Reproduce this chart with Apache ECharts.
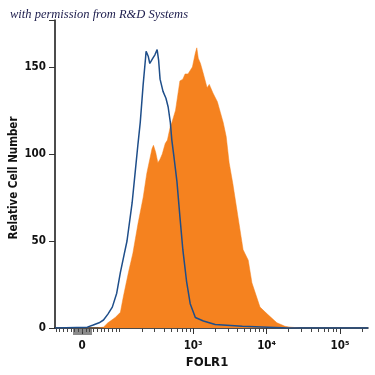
<!DOCTYPE html>
<html>
<head>
<meta charset="utf-8">
<script src="https://cdn.jsdelivr.net/npm/echarts@6/dist/echarts.min.js"></script>
<style>
html,body{margin:0;padding:0;background:#fff;}
#chart{width:375px;height:375px;}
</style>
</head>
<body>
<div id="chart"></div>
<script>
// Display-scale positions (biexponential axis: 10^3 -> 3, 10^4 -> 4, 10^5 -> 5, 0 -> 1.49)
var isotypePos   = [1.12,1.56,1.64,1.72,1.78,1.84,1.90,1.96,2.01,2.06,2.10,2.17,2.21,2.25,2.28,2.32,2.35,2.36,2.39,2.41,2.45,2.48,2.51,2.53,2.55,2.59,2.63,2.66,2.69,2.71,2.74,2.76,2.78,2.82,2.86,2.91,2.96,3.03,3.14,3.30,3.67,4.02,4.30,5.38];
var isotypeCount = [0,0.5,1.7,3,4.6,8,12,20,32,42,50,72,89,106,118,140,154,159,156,152,155,157,160,154,143,136,132,127,118,108,98,91,84,64,45,27,14,6,4,2,1,0.5,0,0];

var folr1Pos   = [1.12,1.70,1.78,1.84,1.94,2.01,2.05,2.12,2.18,2.25,2.32,2.37,2.41,2.44,2.46,2.49,2.52,2.55,2.58,2.62,2.65,2.69,2.71,2.76,2.78,2.82,2.86,2.89,2.93,2.96,2.99,3.03,3.05,3.07,3.10,3.14,3.19,3.22,3.27,3.33,3.37,3.41,3.45,3.49,3.54,3.61,3.68,3.75,3.80,3.91,4.01,4.14,4.25,4.32,4.46,5.38];
var folr1Count = [0,0,0.5,3,6,9,18,32,43,60,75,89,97,103,105,101,95,97,100,106,108,116,118,125,125,142,143,146,146,148,150,158,161,155,152,146,138,140,135,130,124,118,110,95,83,64,45,39,26,12,8,3,1,0.5,0,0];

var majorTickPos   = [1.49, 3, 4, 5];
var majorTickLabel = ['0', '10\u00B3', '10\u2074', '10\u2075'];
var yTicks = [0, 50, 100, 150];

var xMin = 1.12, xMax = 5.38;
// minor ticks: linear region around zero, then log decades
var minorTicks = [];
for (var k = -7; k <= 10; k++) minorTicks.push(1.49 + k * 0.051);
[2, 3, 4].forEach(function (d) {
  for (var m = 2; m <= 9; m++) minorTicks.push(d + Math.log10(m));
});
minorTicks.push(5 + Math.log10(2));
minorTicks = minorTicks.filter(function (v) { return v >= xMin && v <= xMax; });

function pairs(xs, ys) { return xs.map(function (x, i) { return [x, ys[i]]; }); }

var FONT = '"DejaVu Sans Condensed", "DejaVu Sans", sans-serif';
var chart = echarts.init(document.getElementById('chart'), null, {renderer: 'canvas'});
chart.setOption({
  animation: false,
  backgroundColor: '#ffffff',
  grid: {left: 55, right: 7, top: 20, bottom: 47},
  xAxis: [{
    type: 'value', min: xMin, max: xMax,
    splitLine: {show: false},
    axisLine: {show: true, onZero: false, lineStyle: {color: '#111', width: 1.5}},
    axisTick: {show: true, customValues: majorTickPos, length: 6, lineStyle: {color: '#333', width: 1}},
    axisLabel: {show: true, customValues: majorTickPos, margin: 12,
      formatter: function (v) {
        var i = -1;
        for (var j = 0; j < majorTickPos.length; j++) if (Math.abs(majorTickPos[j] - v) < 1e-6) i = j;
        return i >= 0 ? majorTickLabel[i] : '';
      },
      color: '#111', fontFamily: FONT, fontWeight: 'bold', fontSize: 11.5}
  }, {
    type: 'value', min: xMin, max: xMax, position: 'bottom',
    splitLine: {show: false},
    axisLine: {show: false, onZero: false},
    axisTick: {show: true, customValues: minorTicks, length: 4, lineStyle: {color: '#444', width: 1}},
    axisLabel: {show: false}
  }],
  yAxis: {
    type: 'value', min: 0, max: 177, interval: 50,
    splitLine: {show: false},
    axisLine: {show: true, onZero: false, lineStyle: {color: '#111', width: 1.5}},
    axisTick: {show: true, length: 6, lineStyle: {color: '#333', width: 1}},
    axisLabel: {margin: 9, color: '#111', fontFamily: FONT, fontWeight: 'bold', fontSize: 11.5,
      formatter: function (v) { return yTicks.indexOf(v) >= 0 ? String(v) : ''; }}
  },
  series: [{
    type: 'line', name: 'FOLR1', xAxisIndex: 0,
    data: pairs(folr1Pos, folr1Count),
    showSymbol: false, symbol: 'none',
    lineStyle: {color: '#F5821F', width: 0.5},
    areaStyle: {color: '#F5821F', opacity: 1},
    z: 2
  }, {
    type: 'line', name: 'Isotype', xAxisIndex: 0,
    data: pairs(isotypePos, isotypeCount),
    showSymbol: false, symbol: 'none',
    lineStyle: {color: '#1E4E8A', width: 1.5},
    z: 3
  }],
  graphic: [{
    type: 'rect', shape: {x: 73, y: 329, width: 19, height: 6}, z: 0,
    style: {fill: '#8a8a8a'}
  }, {
    type: 'text', left: 10, top: 8,
    style: {text: 'with permission from R&D Systems', fill: '#1b1b4b',
      font: 'italic 12.5px "Liberation Serif", "DejaVu Serif", serif'}
  }, {
    type: 'text', x: 207, y: 363,
    style: {text: 'FOLR1', fill: '#111', align: 'center', verticalAlign: 'middle',
      font: 'bold 13px ' + FONT}
  }, {
    type: 'text', x: 14, y: 178, rotation: Math.PI / 2,
    style: {text: 'Relative Cell Number', fill: '#111', align: 'center', verticalAlign: 'middle',
      font: 'bold 11.5px ' + FONT}
  }]
});
</script>
</body>
</html>
